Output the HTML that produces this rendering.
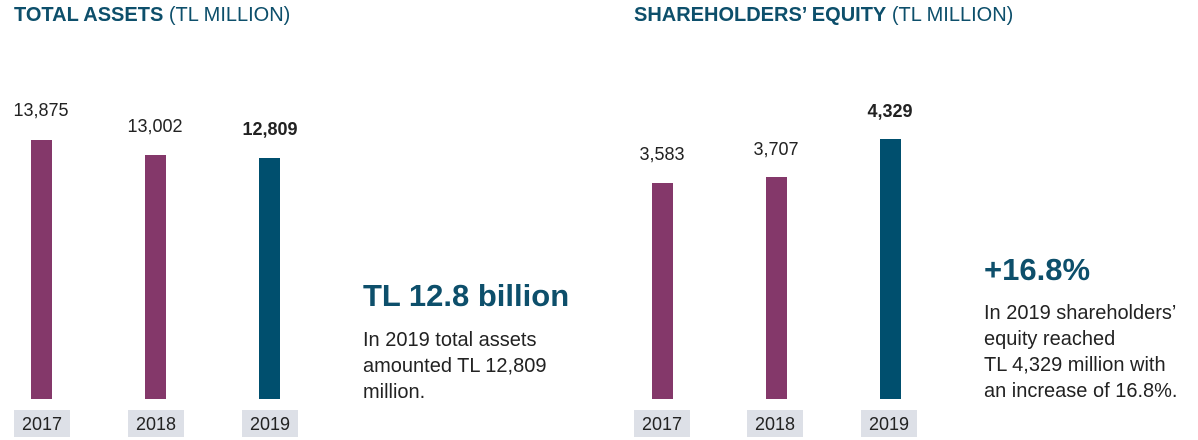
<!DOCTYPE html>
<html><head><meta charset="utf-8"><style>
body{margin:0;width:1198px;height:440px;background:#fff;position:relative;overflow:hidden;font-family:"Liberation Sans",sans-serif;}
.a{position:absolute;white-space:nowrap}
.t{font-size:20px;color:#0d4f6b;top:4px}
.t b{font-weight:bold}
.bar{position:absolute;width:21px;bottom:41px}
.p{background:#84386a}.q{background:#004f6e}
.v{position:absolute;font-size:18px;color:#222;width:80px;text-align:center}
.y{position:absolute;top:410px;height:27px;width:56px;background:#dde0e7;font-size:18px;color:#222;text-align:center;line-height:28px}
.big{font-size:31px;font-weight:bold;color:#0d4f6b}
.par{font-size:20px;color:#222;line-height:26px}
</style></head><body>
<div class="a t" style="left:14px"><b>TOTAL ASSETS</b> (TL MILLION)</div>
<div class="a t" style="left:634px"><b>SHAREHOLDERS’ EQUITY</b> (TL MILLION)</div>

<div class="v" style="left:1px;top:100px">13,875</div>
<div class="v" style="left:115px;top:116px">13,002</div>
<div class="v" style="left:230px;top:119px;font-weight:bold">12,809</div>
<div class="bar p" style="left:31px;top:140px"></div>
<div class="bar p" style="left:145px;top:155px"></div>
<div class="bar q" style="left:259px;top:158px"></div>
<div class="y" style="left:14px">2017</div>
<div class="y" style="left:128px">2018</div>
<div class="y" style="left:242px">2019</div>

<div class="v" style="left:622px;top:144px">3,583</div>
<div class="v" style="left:736px;top:139px">3,707</div>
<div class="v" style="left:850px;top:101px;font-weight:bold">4,329</div>
<div class="bar p" style="left:652px;top:183px"></div>
<div class="bar p" style="left:766px;top:177px"></div>
<div class="bar q" style="left:880px;top:139px"></div>
<div class="y" style="left:634px">2017</div>
<div class="y" style="left:747px">2018</div>
<div class="y" style="left:861px">2019</div>

<div class="a big" style="left:363px;top:278px">TL 12.8 billion</div>
<div class="a par" style="left:363px;top:327px">In 2019 total assets<br>amounted TL 12,809<br>million.</div>
<div class="a big" style="left:984px;top:252px">+16.8%</div>
<div class="a par" style="left:984px;top:300px">In 2019 shareholders’<br>equity reached<br>TL 4,329 million with<br>an increase of 16.8%.</div>
</body></html>
